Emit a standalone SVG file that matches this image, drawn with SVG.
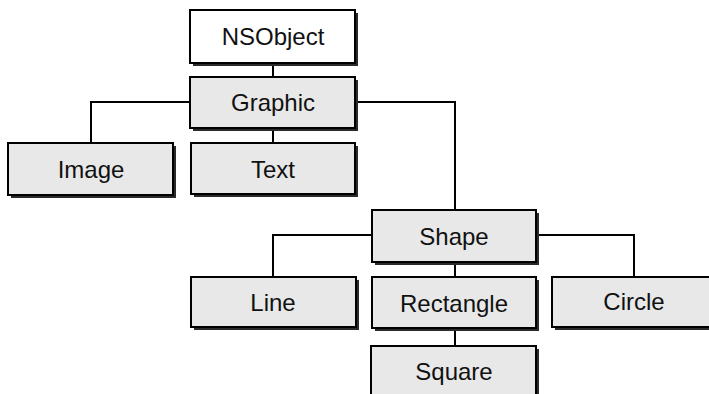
<svg xmlns="http://www.w3.org/2000/svg" width="709" height="394" viewBox="0 0 709 394">
<style>
.bx{fill:#e8e8e8;stroke:#000;stroke-width:2}
.wh{fill:#fff;stroke:#000;stroke-width:2}
.sh{fill:#2a2a2a;stroke:none}
.t{font-family:"Liberation Sans",Arial,sans-serif;font-size:24px;fill:#111;text-anchor:middle}
.c{fill:none;stroke:#000;stroke-width:2}
</style>
<rect width="709" height="394" fill="#fff"/>
<g id="connectors">
<path class="c" d="M273 63V77"/>
<path class="c" d="M273 128V143"/>
<path class="c" d="M190 102H91V143"/>
<path class="c" d="M355 102H455V210"/>
<path class="c" d="M372 235H273V277"/>
<path class="c" d="M455 262V277"/>
<path class="c" d="M536 235H634V277"/>
<path class="c" d="M455 328V346"/>
</g>
<g id="nsobject"><rect class="sh" x="193" y="13" width="165" height="53"/><rect class="wh" x="190" y="10" width="165" height="53"/><text class="t" x="273" y="45">NSObject</text></g>
<g id="graphic"><rect class="sh" x="193" y="80" width="165" height="51"/><rect class="bx" x="190" y="77" width="165" height="51"/><text class="t" x="273" y="111">Graphic</text></g>
<g id="image"><rect class="sh" x="11" y="146" width="165" height="52"/><rect class="bx" x="8" y="143" width="165" height="52"/><text class="t" x="91" y="178">Image</text></g>
<g id="text"><rect class="sh" x="194" y="146" width="164" height="51"/><rect class="bx" x="191" y="143" width="164" height="51"/><text class="t" x="273" y="178">Text</text></g>
<g id="shape"><rect class="sh" x="375" y="213" width="164" height="52"/><rect class="bx" x="372" y="210" width="164" height="52"/><text class="t" x="454" y="245">Shape</text></g>
<g id="line"><rect class="sh" x="194" y="280" width="165" height="50"/><rect class="bx" x="191" y="277" width="165" height="50"/><text class="t" x="273" y="311">Line</text></g>
<g id="rectangle"><rect class="sh" x="375" y="280" width="164" height="51"/><rect class="bx" x="372" y="277" width="164" height="51"/><text class="t" x="454" y="312">Rectangle</text></g>
<g id="circle"><rect class="sh" x="555" y="280" width="165" height="50"/><rect class="bx" x="552" y="277" width="165" height="50"/><text class="t" x="634" y="310">Circle</text></g>
<g id="square"><rect class="sh" x="374" y="349" width="165" height="60"/><rect class="bx" x="371" y="346" width="165" height="60"/><text class="t" x="454" y="380">Square</text></g>
</svg>
